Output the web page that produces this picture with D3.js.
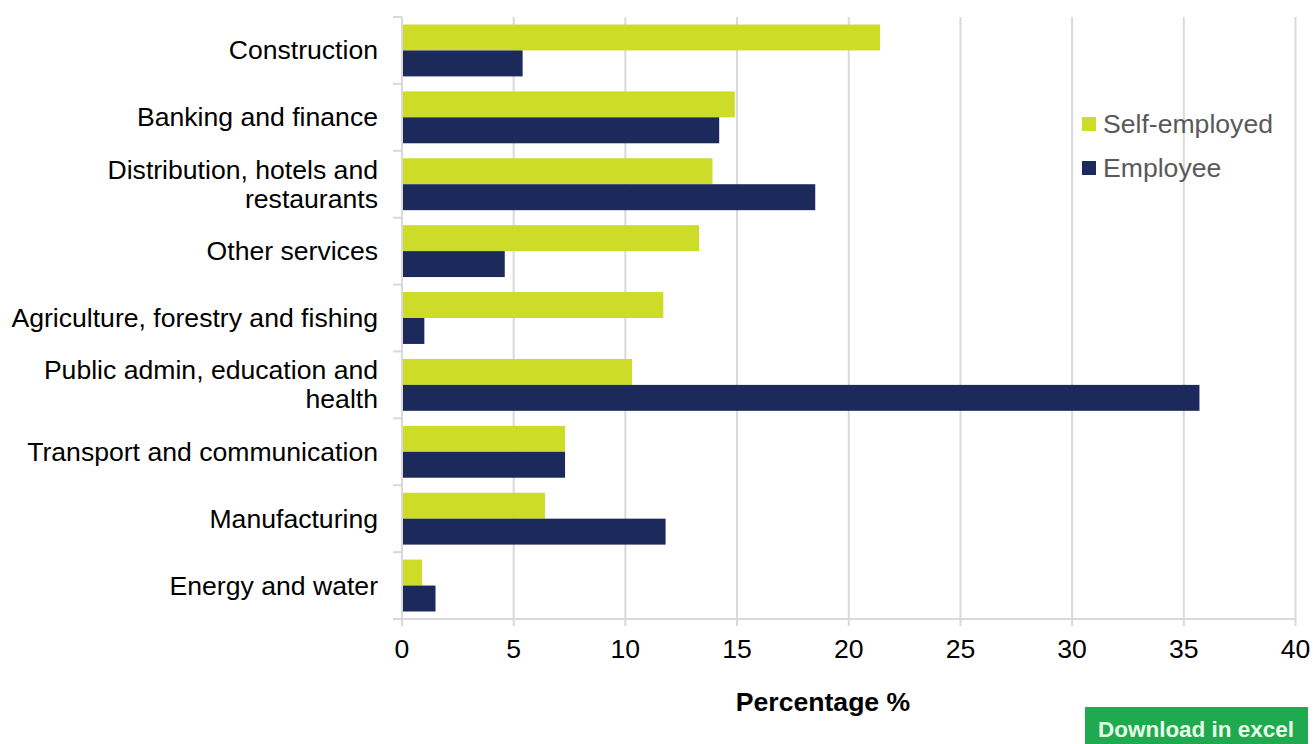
<!DOCTYPE html>
<html><head><meta charset="utf-8">
<script src="https://cdn.jsdelivr.net/npm/d3@7"></script>
<style>body{margin:0;background:#fff;} svg{display:block;font-family:"Liberation Sans",Arial,sans-serif;}</style>
</head><body>
<script>
const categories = [["Construction"],["Banking and finance"],["Distribution, hotels and","restaurants"],["Other services"],["Agriculture, forestry and fishing"],["Public admin, education and","health"],["Transport and communication"],["Manufacturing"],["Energy and water"]];
const seriesNames = ["Self-employed","Employee"];
const selfEmployed = [21.4,14.9,13.9,13.3,11.7,10.3,7.3,6.4,0.9];
const employee = [5.4,14.2,18.5,4.6,1.0,35.7,7.3,11.8,1.5];
const xTicks = [0,5,10,15,20,25,30,35,40];
const colors = ["#cddc29","#1b2a5a"];

(function(){
const W=1314,H=744;
const svg=d3.select("body").append("svg").attr("width",W).attr("height",H);
const pL=402,pR=1295.5,pT=17,pB=619;
const fs=26.6;
const x=d3.scaleLinear().domain([0,40]).range([pL,pR]);
const keys=categories.map(c=>c.join(" "));
const y=d3.scaleBand().domain(keys).range([pT,pB]).padding(0);
const yi=d3.scaleBand().domain(seriesNames).range([7.5,y.step()-7.5]).padding(0);
const grid="#d9d9d9";

svg.append("g").selectAll("line").data(xTicks.filter(d=>d>0)).join("line")
 .attr("x1",d=>x(d)).attr("x2",d=>x(d)).attr("y1",pT).attr("y2",pB)
 .attr("stroke",grid).attr("stroke-width",2);

const data=keys.map((k,i)=>({k,vals:[selfEmployed[i],employee[i]]}));
const g=svg.append("g").selectAll("g").data(data).join("g").attr("transform",d=>`translate(0,${y(d.k)})`);
g.selectAll("rect").data(d=>d.vals.map((v,j)=>({v,s:seriesNames[j],j}))).join("rect")
 .attr("x",x(0)).attr("y",d=>yi(d.s)).attr("width",d=>x(d.v)-x(0)).attr("height",yi.bandwidth())
 .attr("fill",d=>colors[d.j]);

svg.append("line").attr("x1",pL).attr("x2",pL).attr("y1",pT).attr("y2",pB+6).attr("stroke",grid).attr("stroke-width",2);
const bounds=d3.range(keys.length+1).map(i=>pT+i*y.step());
svg.append("g").selectAll("line").data(bounds).join("line")
 .attr("x1",393).attr("x2",pL).attr("y1",d=>d).attr("y2",d=>d).attr("stroke",grid).attr("stroke-width",2);
svg.append("line").attr("x1",393).attr("x2",pR+1).attr("y1",pB).attr("y2",pB).attr("stroke",grid).attr("stroke-width",2);
svg.append("g").selectAll("line").data(xTicks).join("line")
 .attr("x1",d=>x(d)).attr("x2",d=>x(d)).attr("y1",pB).attr("y2",pB+7).attr("stroke",grid).attr("stroke-width",2);

svg.append("g").selectAll("text").data(xTicks).join("text")
 .attr("x",d=>x(d)).attr("y",658).attr("text-anchor","middle").attr("font-size",fs).attr("fill","#000").text(d=>d);

const cl=svg.append("g").selectAll("text").data(categories).join("text")
 .attr("text-anchor","end").attr("font-size",fs).attr("fill","#000")
 .attr("transform",(d,i)=>`translate(378,${y(keys[i])+y.step()/2})`);
cl.each(function(d){
  const t=d3.select(this);
  const n=d.length, lh=29;
  d.forEach((line,j)=>{
    t.append("tspan").attr("x",0).attr("y",(j-(n-1)/2)*lh+9).text(line);
  });
});

svg.append("text").attr("x",823).attr("y",711).attr("text-anchor","middle").attr("font-size",fs).attr("font-weight","bold").attr("fill","#000").text("Percentage %");

const lg=svg.append("g").selectAll("g").data(seriesNames).join("g").attr("transform",(d,i)=>`translate(1082,${117+i*44})`);
lg.append("rect").attr("width",14).attr("height",14).attr("fill",(d,i)=>colors[i]);
lg.append("text").attr("x",21).attr("y",16).attr("font-size",fs).attr("fill","#595959").text(d=>d);

svg.append("rect").attr("x",1085).attr("y",707).attr("width",223).attr("height",40).attr("fill","#1faa4f");
svg.append("text").attr("x",1196).attr("y",737).attr("text-anchor","middle").attr("font-size",22).attr("font-weight","bold").attr("fill","#e6fbe9").attr("textLength",196).attr("lengthAdjust","spacingAndGlyphs").text("Download in excel");
})();
</script>
</body></html>
